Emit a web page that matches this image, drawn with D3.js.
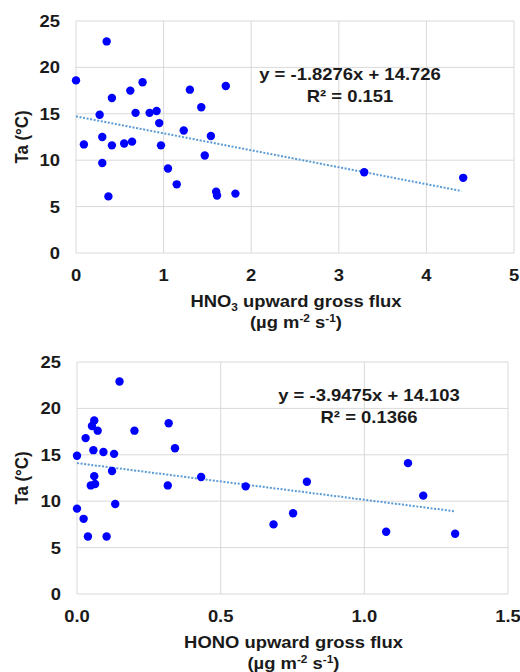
<!DOCTYPE html>
<html>
<head>
<meta charset="utf-8">
<script src="https://cdn.jsdelivr.net/npm/d3@7"></script>
<style>
  body { margin: 0; background: #fff; }
  svg { display: block; font-family: "Liberation Sans", Arial, sans-serif; }
  .grid line { stroke: #d9d9d9; stroke-width: 1; }
  .tick-label { font-size: 16.3px; font-weight: bold; fill: #1a1a1a; }
  .title { font-size: 16.3px; font-weight: bold; fill: #1a1a1a; }
</style>
</head>
<body>
<svg width="520" height="672"></svg>
<script>
// HNO3 panel
const hno3X = [0.00, 0.09, 0.35, 0.27, 0.30, 0.30, 0.37, 0.41, 0.41, 0.55, 0.62, 0.64, 0.68, 0.76, 0.84, 0.92,
  0.95, 0.97, 1.05, 1.15, 1.23, 1.30, 1.43, 1.47, 1.54, 1.60, 1.61, 1.71, 1.82, 3.29, 4.42];
const hno3Y = [18.6, 11.7, 22.8, 14.9, 12.5, 9.7, 6.1, 16.7, 11.6, 11.8, 17.5, 12.0, 15.1, 18.4, 15.1, 15.3,
  14.0, 11.6, 9.1, 7.4, 13.2, 17.6, 15.7, 10.5, 12.6, 6.6, 6.2, 18.0, 6.4, 8.7, 8.1];
const hno3Fit = { slope: -1.8276, intercept: 14.726, xEnd: 4.40 };
const hno3Eq = ["y = -1.8276x + 14.726", "R² = 0.151"];
const hno3Ticks = [0, 1, 2, 3, 4, 5];

// HONO panel
const honoX = [0.000, 0.000, 0.023, 0.030, 0.038, 0.048, 0.052, 0.057, 0.060, 0.060, 0.063, 0.072, 0.092,
  0.103, 0.122, 0.129, 0.133, 0.148, 0.200, 0.316, 0.319, 0.341, 0.432, 0.587, 0.684, 0.752, 0.800,
  1.076, 1.152, 1.205, 1.316];
const honoY = [14.9, 9.2, 8.1, 16.8, 6.2, 11.7, 18.1, 15.5, 18.7, 12.7, 11.85, 17.6, 15.3,
  6.2, 13.25, 15.1, 9.7, 22.9, 17.6, 11.7, 18.4, 15.7, 12.6, 11.6, 7.5, 8.7, 12.1,
  6.7, 14.1, 10.6, 6.5];
const honoFit = { slope: -3.9475, intercept: 14.103, xEnd: 1.313 };
const honoEq = ["y = -3.9475x + 14.103", "R² = 0.1366"];
const honoTicks = [0, 0.5, 1.0, 1.5];

const taTicks = [0, 5, 10, 15, 20, 25];

// the original figure is a bit wider than tall, so text gets stretched sideways
const stretch = 1.13;

const svg = d3.select("svg");

function place(sel, x, y) {
  return sel.attr("transform", `translate(${x},${y}) scale(${stretch},1)`);
}

function drawPanel(opt) {
  const g = svg.append("g");
  const x = d3.scaleLinear().domain(opt.xDomain).range([opt.left, opt.right]);
  const y = d3.scaleLinear().domain([0, 25]).range([opt.bottom, opt.top]);

  const grid = g.append("g").attr("class", "grid");
  grid.selectAll(".h").data(taTicks).enter().append("line")
    .attr("x1", opt.left).attr("x2", opt.right)
    .attr("y1", d => y(d)).attr("y2", d => y(d));
  grid.selectAll(".v").data(opt.xTicks).enter().append("line")
    .attr("x1", d => x(d)).attr("x2", d => x(d))
    .attr("y1", opt.top).attr("y2", opt.bottom);

  // tick labels
  g.selectAll(".yl").data(taTicks).enter().append("text")
    .attr("class", "tick-label")
    .attr("transform", d => `translate(${opt.left - 16},${y(d) + 6}) scale(${stretch},1)`)
    .attr("text-anchor", "end")
    .text(d => d);
  g.selectAll(".xl").data(opt.xTicks).enter().append("text")
    .attr("class", "tick-label")
    .attr("transform", d => `translate(${x(d)},${opt.bottom + 28}) scale(${stretch},1)`)
    .attr("text-anchor", "middle")
    .text(d => opt.fmt(d));

  // trendline
  const fitPts = [0, opt.fit.xEnd].map(v => [x(v), y(opt.fit.slope * v + opt.fit.intercept)]);
  g.append("path")
    .attr("d", d3.line()(fitPts))
    .attr("fill", "none")
    .attr("stroke", "#5b9bd5")
    .attr("stroke-width", 2)
    .attr("stroke-dasharray", "2,1.6");

  // points
  g.selectAll("circle").data(opt.xs).enter().append("circle")
    .attr("cx", d => x(d))
    .attr("cy", (d, i) => y(opt.ys[i]))
    .attr("r", 4.2)
    .attr("fill", "#0000ff");

  // equation
  g.selectAll(".eq").data(opt.eq).enter().append("text")
    .attr("class", "title")
    .attr("transform", (d, i) => `translate(${opt.eqX},${opt.eqY + i * 21.7}) scale(${stretch * 0.99},1)`)
    .attr("text-anchor", "middle")
    .style("font-size", "16.5px")
    .text(d => d);

  // y title
  g.append("text")
    .attr("class", "title")
    .attr("transform", `translate(28,${(opt.top + opt.bottom) / 2}) rotate(-90) scale(1,${stretch})`)
    .attr("text-anchor", "middle")
    .style("font-size", "16.8px")
    .text("Ta (°C)");

  // x title
  const cx = (opt.left + opt.right) / 2 + 1;
  const t1 = place(g.append("text").attr("class", "title"), cx, opt.bottom + 54)
    .attr("text-anchor", "middle");
  opt.xTitle(t1);
  const t2 = place(g.append("text").attr("class", "title"), cx, opt.bottom + 74.5)
    .attr("text-anchor", "middle");
  t2.append("tspan").text("(µg m");
  t2.append("tspan").attr("dy", -6).style("font-size", "10.5px").text("-2");
  t2.append("tspan").attr("dy", 6).text(" s");
  t2.append("tspan").attr("dy", -6).style("font-size", "10.5px").text("-1");
  t2.append("tspan").attr("dy", 6).text(")");
}

drawPanel({
  xDomain: [0, 5], xTicks: hno3Ticks, fmt: d3.format("d"),
  left: 76, right: 514, top: 21, bottom: 253,
  xs: hno3X, ys: hno3Y, fit: hno3Fit, eq: hno3Eq, eqX: 350, eqY: 80,
  xTitle: t => {
    t.append("tspan").text("HNO");
    t.append("tspan").attr("dy", 4).style("font-size", "10.5px").text("3");
    t.append("tspan").attr("dy", -4).text(" upward gross flux");
  }
});

drawPanel({
  xDomain: [0, 1.5], xTicks: honoTicks, fmt: d3.format(".1f"),
  left: 77, right: 508, top: 362, bottom: 594,
  xs: honoX, ys: honoY, fit: honoFit, eq: honoEq, eqX: 369, eqY: 401,
  xTitle: t => t.text("HONO upward gross flux")
});
</script>
</body>
</html>
